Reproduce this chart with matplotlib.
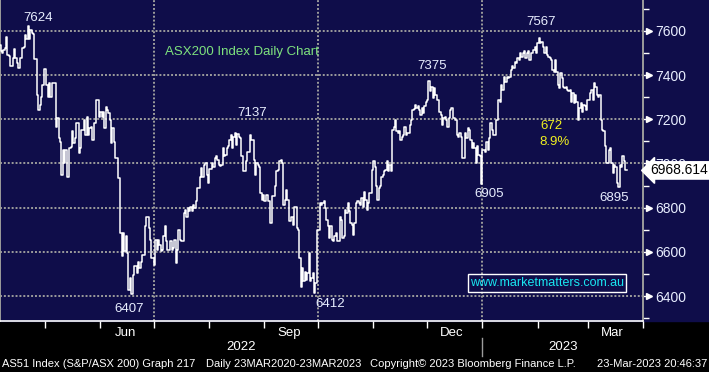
import numpy as np
import pandas as pd
import matplotlib
matplotlib.use('Agg')
import matplotlib.pyplot as plt
import matplotlib.dates as mdates
import matplotlib.transforms as mtransforms
from matplotlib.patches import Rectangle
from matplotlib.ticker import NullFormatter

plt.rcParams['font.family'] = ['Liberation Sans', 'DejaVu Sans']

# ASX200 daily closes, Apr 2022 -> Mar 2023
apr_jul = [7537, 7507, 7499, 7514, 7522, 7571, 7491, 7487, 7442, 7442, 7476, 7517, 7476, 7454, 7431,
           7476, 7476, 7522, 7526, 7582, 7562, 7624, 7562, 7605, 7589, 7586, 7472, 7472, 7310, 7243,
           7265, 7303, 7356, 7427, 7427, 7356, 7303, 7366, 7303, 7363, 7363, 7363, 7167, 7205, 7114,
           7099, 6949, 7062, 7001, 7062, 6941, 6941, 7069, 7074, 7145, 7092, 7114, 7182, 7182, 7047,
           7069, 7152, 7152, 7197, 7130, 7212, 7130, 7160, 7167, 7107, 7182, 7182, 7288, 7288, 7212,
           7235, 7209, 7235, 7160, 7255, 7243, 7228, 7197, 7092, 7160, 7095, 7024, 7024, 6933, 6933,
           6685, 6579, 6685, 6602, 6670, 6594, 6428, 6481, 6407, 6496, 6537, 6537, 6504, 6556, 6526,
           6556, 6587, 6587, 6715, 6760, 6760, 6707, 6654, 6572, 6572, 6541, 6654, 6609, 6654, 6632]
jul_oct = [6602, 6609, 6670, 6715, 6647, 6609, 6609, 6647, 6609, 6617, 6654, 6549, 6609, 6700, 6654,
           6647, 6647, 6775, 6790, 6760, 6798, 6783, 6805, 6783, 6813, 6798, 6828, 6888, 6888, 6941,
           6979, 6941, 6994, 7001, 6949, 6911, 6974, 6974, 7001, 6986, 7024, 7032, 7016, 6994, 6989,
           6994, 7069, 7032, 7039, 7069, 7077, 7107, 7130, 7069, 7122, 7137, 7084, 7134, 7122, 7114,
           7032, 6964, 6964, 7009, 7054, 7054, 7130, 7107, 7107, 7016, 6949, 7001, 6994, 6986, 6866,
           6835, 6858, 6828, 6858, 6858, 6828, 6730, 6730, 6851, 6851, 6896, 6964, 6971, 7009, 7016,
           7001, 6813, 6835, 6881, 6835, 6738, 6738, 6760, 6722, 6805, 6805, 6707, 6700, 6572, 6443,
           6526, 6466, 6511, 6474, 6504, 6594, 6466, 6481, 6504]
oct_jan = [6412, 6458, 6700, 6700, 6820, 6813, 6823, 6828, 6798, 6745, 6715, 6662, 6715, 6654, 6647,
           6670, 6685, 6647, 6647, 6760, 6745, 6662, 6670, 6790, 6775, 6820, 6783, 6730, 6723, 6677,
           6730, 6820, 6828, 6820, 6813, 6843, 6805, 6873, 6835, 6790, 6820, 6866, 6866, 6971, 7009,
           6986, 6896, 6835, 6888, 6896, 6941, 6949, 6964, 6971, 7009, 6964, 6994, 6964, 7152, 7167,
           7197, 7145, 7137, 7145, 7107, 7122, 7130, 7167, 7130, 7137, 7137, 7175, 7197, 7243, 7246,
           7265, 7250, 7258, 7243, 7220, 7250, 7228, 7258, 7280, 7288, 7375, 7326, 7348, 7295, 7341,
           7311, 7288, 7288, 7235, 7220, 7175, 7205, 7212, 7197, 7167, 7205, 7243, 7250, 7205, 7205,
           7197, 7130, 7122, 7137, 7122, 7024, 7024, 7137, 7114, 7160, 7152, 7107, 7069, 7092, 7069,
           7001, 7077, 7039, 7032]
jan_mar = [6905, 7062, 7062, 7054, 7099, 7062, 7114, 7182, 7152, 7130, 7130, 7197, 7197, 7288, 7280,
           7356, 7333, 7393, 7371, 7393, 7386, 7393, 7424, 7439, 7431, 7461, 7454, 7476, 7469, 7499,
           7484, 7499, 7507, 7476, 7499, 7507, 7469, 7499, 7499, 7514, 7529, 7499, 7544, 7567, 7544,
           7552, 7529, 7499, 7529, 7491, 7484, 7476, 7469, 7424, 7416, 7469, 7416, 7356, 7341, 7408,
           7386, 7348, 7341, 7348, 7333, 7326, 7333, 7280, 7318, 7273, 7311, 7280, 7197, 7250, 7273,
           7235, 7265, 7258, 7243, 7288, 7288, 7318, 7333, 7288, 7363, 7348, 7311, 7303, 7311, 7197,
           7152, 7145, 7077, 7001, 7001, 7062, 7069, 7001, 6956, 6994, 6986, 6911, 6895, 6994, 6986,
           7032, 7009, 6971, 6969]
closes = apr_jul + jul_oct + oct_jan + jan_mar
last_price = 6968.614

y_ticks = [6400, 6600, 6800, 7000, 7200, 7400, 7600]
month_labels = ['Jun', 'Sep', 'Dec', 'Mar']
month_mid = ['2022-06-15', '2022-09-15', '2022-12-15', '2023-03-15']
quarter_lines = ['2022-07-01', '2022-10-01', '2023-01-01']

# (text, x px, y px) labels on turning points
point_labels = [('7624', 38, 18), ('7137', 252, 113), ('7375', 432, 66), ('7567', 541, 22),
                ('6407', 129, 309), ('6412', 330, 304), ('6905', 489, 194), ('6895', 614, 198)]

W, H = 709, 372
navy = '#0f0d4a'
grey = '#9c9c9c'
dot = (0, (1, 1))
txt = '#e8eeff'

def fx(x):
    return x / W

def fy(y):
    return 1 - y / H

fig = plt.figure(figsize=(W / 100, H / 100), dpi=100, facecolor='black')
fig.patches.append(Rectangle((0, fy(321)), 1, 321 / H, transform=fig.transFigure,
                             color=navy, zorder=-10))
ax = fig.add_axes([0, fy(321), 643 / W, 321 / H])
ax.set_facecolor(navy)
ax.set_zorder(1)

dates = pd.to_datetime(np.linspace(pd.Timestamp('2022-04-06').value,
                                   pd.Timestamp('2023-03-23').value, len(closes)))
ax.plot(dates, closes, color='white', lw=1.1, drawstyle='steps-mid', zorder=3)
ax.set_xlim(pd.Timestamp('2022-04-06'), pd.Timestamp('2023-04-01'))
ax.set_ylim(6287, 7740)

for y in y_ticks:
    ax.axhline(y, color=grey, lw=1.4, ls=dot, zorder=1)
for d in quarter_lines:
    ax.axvline(pd.Timestamp(d), color=grey, lw=1.4, ls=dot, zorder=1)

ax.spines['top'].set_visible(False)
for s in ['left', 'right']:
    ax.spines[s].set_color(grey)
    ax.spines[s].set_linestyle(dot)
    ax.spines[s].set_linewidth(1.4)
ax.spines['bottom'].set_color('white')
ax.spines['bottom'].set_linewidth(1.2)

ax.xaxis.set_major_locator(mdates.MonthLocator())
ax.xaxis.set_major_formatter(NullFormatter())
ax.set_xticks([pd.Timestamp(d) for d in month_mid], minor=True)
ax.set_xticklabels(month_labels, minor=True)
ax.tick_params(axis='x', which='major', length=5, color='white', width=1)
ax.tick_params(axis='x', which='minor', length=0, labelcolor='white', labelsize=9.5, pad=4)

ax.yaxis.tick_right()
ax.set_yticks(y_ticks)
ax.set_yticks(range(6300, 7800, 100), minor=True)
ax.tick_params(axis='y', which='major', length=6, color='white', width=1,
               labelcolor=txt, labelsize=10, pad=3)
ax.tick_params(axis='y', which='minor', length=4, color='white', width=1)
trans = mtransforms.blended_transform_factory(ax.transAxes, ax.transData)
ax.plot([1.01] * len(y_ticks), y_ticks, marker='>', ls='none', ms=4.5, color='white',
        transform=trans, clip_on=False)

ax.text(1.012, last_price, '6968.614', transform=trans, ha='left', va='center',
        color='black', fontsize=10, zorder=10,
        bbox=dict(boxstyle='larrow,pad=0.12', fc='white', ec='white'))

for label, x, y in point_labels:
    fig.text(fx(x), fy(y), label, color=txt, fontsize=9.5, ha='center', va='center', zorder=5)
fig.text(fx(551), fy(126), '672', color='#f0f020', fontsize=9.5, ha='center', va='center', zorder=5)
fig.text(fx(554), fy(142), '8.9%', color='#f0f020', fontsize=9.5, ha='center', va='center', zorder=5)
fig.text(fx(242), fy(52), 'ASX200 Index Daily Chart', color='#7ee27e', fontsize=9.5,
         ha='center', va='center', zorder=5)

fig.patches.append(Rectangle((fx(468), fy(292)), 158 / W, 18 / H, transform=fig.transFigure,
                             fill=False, ec='white', lw=1, zorder=5))
fig.text(fx(547), fy(283), 'www.marketmatters.com.au', color='#19e6f0', fontsize=9,
         ha='center', va='center', zorder=6)

fig.text(fx(241), fy(347), '2022', color='white', fontsize=9.5, ha='center', va='center')
fig.text(fx(563), fy(347), '2023', color='white', fontsize=9.5, ha='center', va='center')
fig.add_artist(plt.Line2D([fx(482), fx(482)], [fy(338), fy(356)], color=grey, lw=1,
                          transform=fig.transFigure))

foot = 8
fig.text(fx(2), fy(364), 'AS51 Index (S&P/ASX 200) Graph 217', color='white', fontsize=foot,
         ha='left', va='center')
fig.text(fx(206), fy(364), 'Daily 23MAR2020-23MAR2023', color='white', fontsize=foot,
         ha='left', va='center')
fig.text(fx(370), fy(364), 'Copyright\u00a9 2023 Bloomberg Finance L.P.', color='white',
         fontsize=foot, ha='left', va='center')
fig.text(fx(707), fy(364), '23-Mar-2023 20:46:37', color='white', fontsize=foot,
         ha='right', va='center')

fig.savefig('out.png', dpi=100, facecolor='black')
